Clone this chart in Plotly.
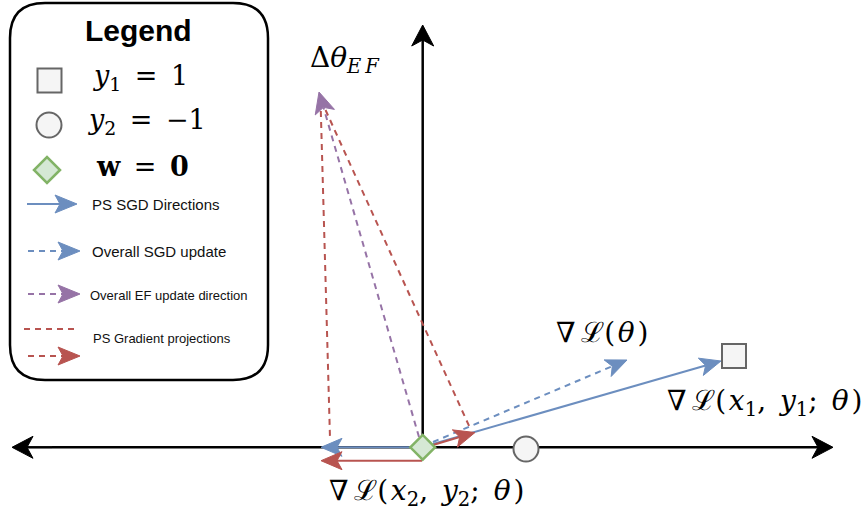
import math
import plotly.graph_objects as go

# ---------------- data (diagram coordinates, pixel-like units) ----------------
origin = [422.7, 447.3]
point_y1 = [734, 356]          # sample with y1 = 1 (square)
point_y2 = [526, 449]          # sample with y2 = -1 (circle)

axis_h_x = [12, 833]
axis_h_y = [447.3, 447.3]
axis_v_x = [422.7, 422.7]
axis_v_y = [447.3, 25]

# vectors: start x, start y, end x, end y
grad1_vec = [433, 444, 721, 361]        # ∇L(x1,y1;θ)
grad2_vec = [410, 447.3, 321, 447.3]    # ∇L(x2,y2;θ)
sgd_vec = [433, 442, 627, 360]          # ∇L(θ)
ef_vec = [419, 437, 319, 92]            # Δθ_EF
proj_right_vec = [433, 445, 475, 432.5] # projection of grad1
proj_left_vec = [422, 460.7, 321, 460.7]  # projection of grad2
proj_dash_left = [320.5, 100, 330, 438]
proj_dash_right = [321, 100, 470, 428]

TH, HA, EN = "\u2009", "\u200a", "\u2002"
labels_text = [f"Δ<i>θ</i><sub><i>E{TH}F</i></sub>",
               f"∇{TH}ℒ({HA}<i>θ</i>{HA})",
               f"∇{TH}ℒ({HA}<i>x</i><sub>1</sub>,{EN}<i>y</i><sub>1</sub>;{EN}<i>θ</i>{HA})",
               f"∇{TH}ℒ({HA}<i>x</i><sub>2</sub>,{EN}<i>y</i><sub>2</sub>;{EN}<i>θ</i>{HA})"]
labels_x = [345, 602, 764, 426]
labels_y = [59, 332, 402, 492]

legend_title = "Legend"
legend_math = [f"<i>y</i><sub>1</sub>{EN}={EN}1",
               f"<i>y</i><sub>2</sub>{EN}={EN}−1",
               f"<b>w</b>{EN}={EN}<b>0</b>"]
legend_lines = ["PS SGD Directions", "Overall SGD update",
                "Overall EF update direction", "PS Gradient projections"]

# ---------------- styles ----------------
BLUE = "#6c8ebf"
RED = "#b85450"
PURPLE = "#9673a6"
GREEN_F, GREEN_S = "#d5e8d4", "#82b366"
GREY_F, GREY_S = "#f5f5f5", "#666666"
MATH_FONT = "DejaVu Serif"
SANS = "Liberation Sans"

fig = go.Figure()


def arrow(x0, y0, x1, y1, color, width=2.0, dash=None, L=21, W=9, notch=5, head=True):
    dx, dy = x1 - x0, y1 - y0
    n = math.hypot(dx, dy)
    ux, uy = dx / n, dy / n
    px, py = -uy, ux
    if head:
        ex, ey = x1 - ux * (L - notch), y1 - uy * (L - notch)
    else:
        ex, ey = x1, y1
    fig.add_trace(go.Scatter(x=[x0, ex], y=[y0, ey], mode="lines",
                             line=dict(color=color, width=width, dash=dash),
                             hoverinfo="skip", showlegend=False))
    if head:
        bx, by = x1 - ux * L, y1 - uy * L
        hx = [x1, bx + px * W, ex, bx - px * W, x1]
        hy = [y1, by + py * W, ey, by - py * W, y1]
        fig.add_trace(go.Scatter(x=hx, y=hy, mode="lines", fill="toself",
                                 fillcolor=color, line=dict(color=color, width=1),
                                 hoverinfo="skip", showlegend=False))


def vec(v, color, dash=None, head=True, **kw):
    arrow(v[0], v[1], v[2], v[3], color, dash=dash, head=head, **kw)


# main axes
arrow(axis_h_x[0] + 40, axis_h_y[0], axis_h_x[0], axis_h_y[0], "black", width=2.5, L=21, W=11, notch=6)
arrow(axis_h_x[0] + 40, axis_h_y[0], axis_h_x[1], axis_h_y[1], "black", width=2.5, L=21, W=11, notch=6)
arrow(axis_v_x[0], axis_v_y[0], axis_v_x[1], axis_v_y[1], "black", width=2.5, L=21, W=11, notch=6)

DASH = "6px,5px"
# projection dashed lines
vec(proj_dash_left, RED, dash=DASH, head=False)
vec(proj_dash_right, RED, dash=DASH, head=False)
# EF update
vec(ef_vec, PURPLE, dash=DASH, W=10)
# SGD
vec(sgd_vec, BLUE, dash=DASH)
vec(grad1_vec, BLUE)
vec(grad2_vec, BLUE)
# projections
vec(proj_right_vec, RED)
vec(proj_left_vec, RED)

# points
fig.add_trace(go.Scatter(x=[point_y1[0]], y=[point_y1[1]], mode="markers",
                         marker=dict(symbol="square", size=24, color=GREY_F, line=dict(color=GREY_S, width=2)),
                         hoverinfo="skip", showlegend=False))
fig.add_trace(go.Scatter(x=[point_y2[0]], y=[point_y2[1]], mode="markers",
                         marker=dict(symbol="circle", size=25, color=GREY_F, line=dict(color=GREY_S, width=2)),
                         hoverinfo="skip", showlegend=False))
fig.add_trace(go.Scatter(x=[origin[0]], y=[origin[1]], mode="markers",
                         marker=dict(symbol="diamond", size=19, color=GREEN_F, line=dict(color=GREEN_S, width=2.5)),
                         hoverinfo="skip", showlegend=False))

# ---------------- legend box ----------------
x0, y0, x1, y1, r = 10, 3, 268, 380, 35
path = (f"M{x0 + r},{y0} L{x1 - r},{y0} Q{x1},{y0} {x1},{y0 + r} L{x1},{y1 - r} "
        f"Q{x1},{y1} {x1 - r},{y1} L{x0 + r},{y1} Q{x0},{y1} {x0},{y1 - r} "
        f"L{x0},{y0 + r} Q{x0},{y0} {x0 + r},{y0} Z")
fig.add_shape(type="path", path=path, xref="x", yref="y",
              line=dict(color="black", width=2.5), fillcolor="white", layer="below")

fig.add_annotation(x=138, y=30, text=f"<b>{legend_title}</b>", showarrow=False,
                   font=dict(family=SANS, size=30, color="black"))

leg_sym_x = [49.5, 49, 47]
leg_sym_y = [80.5, 125, 170]
fig.add_trace(go.Scatter(x=[leg_sym_x[0]], y=[leg_sym_y[0]], mode="markers",
                         marker=dict(symbol="square", size=24, color=GREY_F, line=dict(color=GREY_S, width=2)),
                         hoverinfo="skip", showlegend=False))
fig.add_trace(go.Scatter(x=[leg_sym_x[1]], y=[leg_sym_y[1]], mode="markers",
                         marker=dict(symbol="circle", size=25, color=GREY_F, line=dict(color=GREY_S, width=2)),
                         hoverinfo="skip", showlegend=False))
fig.add_trace(go.Scatter(x=[leg_sym_x[2]], y=[leg_sym_y[2]], mode="markers",
                         marker=dict(symbol="diamond", size=20, color=GREEN_F, line=dict(color=GREEN_S, width=2.5)),
                         hoverinfo="skip", showlegend=False))

leg_math_x = [91, 86, 94]
leg_math_y = [77, 121, 166]
for t, xx, yy in zip(legend_math, leg_math_x, leg_math_y):
    fig.add_annotation(x=xx, y=yy, text=t, showarrow=False, xanchor="left",
                       font=dict(family=MATH_FONT, size=27, color="black"))

# legend line samples
arrow(27, 204, 77, 204, BLUE, L=22, W=9)
arrow(28, 251, 80, 251, BLUE, dash="6px,5px", L=22, W=9)
arrow(28, 294, 80, 294, PURPLE, dash="6px,5px", L=22, W=9)
arrow(24, 329, 76, 329, RED, dash="6px,5px", head=False)
arrow(28, 356, 80, 356, RED, dash="6px,5px", L=22, W=9)

leg_txt_x = [90, 90, 88, 91]
leg_txt_y = [204, 251, 295, 338]
leg_txt_size = [15, 15, 13, 13]
for t, xx, yy, s in zip(legend_lines, leg_txt_x, leg_txt_y, leg_txt_size):
    fig.add_annotation(x=xx, y=yy, text=t, showarrow=False, xanchor="left",
                       font=dict(family=SANS, size=s, color="#111111"))

# main labels
for t, xx, yy in zip(labels_text, labels_x, labels_y):
    fig.add_annotation(x=xx, y=yy, text=t, showarrow=False,
                       font=dict(family=MATH_FONT, size=28, color="black"))

fig.update_layout(
    width=864, height=513,
    margin=dict(l=0, r=0, t=0, b=0),
    paper_bgcolor="white", plot_bgcolor="white",
    xaxis=dict(range=[0, 864], visible=False, fixedrange=True),
    yaxis=dict(range=[513, 0], visible=False, fixedrange=True),
    showlegend=False,
)

fig.write_html("out.html", config={"displayModeBar": False, "staticPlot": True},
               post_script="document.body.style.margin='0px';document.body.style.padding='0px';")
